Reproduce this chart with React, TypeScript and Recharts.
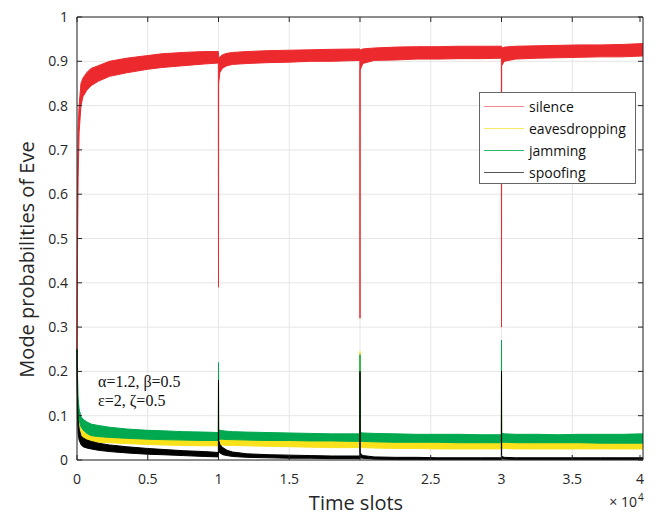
import React from "react";
import { AreaChart, Area, XAxis, YAxis, CartesianGrid, ReferenceArea } from "recharts";

const times = [
  0, 30, 80, 150, 280, 420, 700, 1000, 1500, 2300,
  3500, 5000, 6000, 7500, 9000, 9990, 10000, 10010, 10100, 10300,
  10600, 11000, 12000, 13500, 15000, 16500, 18000, 19990, 20000, 20010,
  20200, 21000, 22500, 24000, 25500, 27000, 28500, 29990, 30000, 30010,
  30200, 31000, 32500, 34000, 35500, 37000, 38500, 40000,
];

// lower / upper edge of each noisy trace
const silenceLo = [
  0.25, 0.45, 0.64, 0.74, 0.8, 0.82, 0.835, 0.845, 0.855, 0.866,
  0.874, 0.882, 0.886, 0.89, 0.894, 0.896, 0.39, 0.85, 0.875, 0.885,
  0.89, 0.893, 0.895, 0.897, 0.898, 0.9, 0.9, 0.902, 0.32, 0.88,
  0.895, 0.902, 0.903, 0.905, 0.905, 0.906, 0.906, 0.907, 0.3, 0.89,
  0.9, 0.905, 0.907, 0.908, 0.909, 0.91, 0.91, 0.912,
];
const silenceHi = [
  0.25, 0.6, 0.75, 0.8, 0.85, 0.862, 0.875, 0.884, 0.89, 0.9,
  0.907, 0.913, 0.917, 0.92, 0.922, 0.922, 0.92, 0.905, 0.91, 0.915,
  0.918, 0.92, 0.922, 0.924, 0.925, 0.926, 0.927, 0.928, 0.928, 0.925,
  0.928, 0.93, 0.932, 0.933, 0.933, 0.934, 0.934, 0.934, 0.934, 0.93,
  0.932, 0.934, 0.935, 0.936, 0.937, 0.937, 0.938, 0.94,
];
const eavesLo = [
  0.25, 0.12, 0.08, 0.06, 0.05, 0.047, 0.044, 0.042, 0.04, 0.039,
  0.037, 0.035, 0.034, 0.033, 0.032, 0.032, 0.032, 0.034, 0.034, 0.034,
  0.033, 0.033, 0.032, 0.031, 0.03, 0.029, 0.028, 0.028, 0.028, 0.028,
  0.028, 0.027, 0.026, 0.026, 0.025, 0.025, 0.025, 0.025, 0.025, 0.026,
  0.026, 0.025, 0.025, 0.025, 0.025, 0.025, 0.025, 0.025,
];
const eavesHi = [
  0.25, 0.17, 0.11, 0.085, 0.07, 0.065, 0.058, 0.055, 0.053, 0.051,
  0.049, 0.048, 0.047, 0.046, 0.045, 0.045, 0.2, 0.05, 0.049, 0.048,
  0.047, 0.047, 0.046, 0.045, 0.044, 0.044, 0.043, 0.043, 0.245, 0.045,
  0.044, 0.042, 0.041, 0.04, 0.04, 0.04, 0.04, 0.04, 0.25, 0.043,
  0.042, 0.041, 0.04, 0.04, 0.04, 0.04, 0.039, 0.039,
];
const jammingLo = [
  0.25, 0.15, 0.11, 0.09, 0.075, 0.068, 0.06, 0.055, 0.053, 0.051,
  0.049, 0.047, 0.046, 0.045, 0.044, 0.044, 0.044, 0.046, 0.047, 0.047,
  0.046, 0.046, 0.045, 0.044, 0.044, 0.043, 0.043, 0.042, 0.042, 0.042,
  0.042, 0.041, 0.04, 0.04, 0.04, 0.039, 0.039, 0.039, 0.039, 0.04,
  0.04, 0.039, 0.039, 0.039, 0.039, 0.038, 0.038, 0.038,
];
const jammingHi = [
  0.25, 0.2, 0.14, 0.115, 0.098, 0.092, 0.086, 0.081, 0.078, 0.074,
  0.07, 0.067, 0.066, 0.064, 0.063, 0.062, 0.22, 0.068, 0.067, 0.066,
  0.065, 0.064, 0.063, 0.062, 0.061, 0.06, 0.059, 0.059, 0.238, 0.062,
  0.061, 0.06, 0.059, 0.058, 0.058, 0.058, 0.057, 0.057, 0.27, 0.06,
  0.059, 0.058, 0.058, 0.057, 0.058, 0.058, 0.058, 0.059,
];
const spoofingLo = [
  0.25, 0.1, 0.06, 0.045, 0.035, 0.03, 0.027, 0.025, 0.022, 0.019,
  0.016, 0.013, 0.012, 0.01, 0.008, 0.007, 0.007, 0.02, 0.016, 0.012,
  0.01, 0.008, 0.006, 0.005, 0.004, 0.004, 0.003, 0.003, 0.003, 0.005,
  0.004, 0.002, 0.001, 0.001, 0.001, 0.001, 0.001, 0.001, 0.001, 0.003,
  0.002, 0.001, 0.001, 0.001, 0.001, 0.001, 0.001, 0.001,
];
const spoofingHi = [
  0.25, 0.15, 0.09, 0.07, 0.055, 0.05, 0.045, 0.042, 0.038, 0.034,
  0.03, 0.026, 0.024, 0.021, 0.019, 0.017, 0.18, 0.045, 0.035, 0.028,
  0.022, 0.018, 0.014, 0.012, 0.011, 0.01, 0.009, 0.009, 0.2, 0.016,
  0.01, 0.007, 0.006, 0.006, 0.005, 0.005, 0.005, 0.005, 0.2, 0.008,
  0.006, 0.005, 0.005, 0.005, 0.005, 0.005, 0.005, 0.005,
];

const xTicks = [0, 5000, 10000, 15000, 20000, 25000, 30000, 35000, 40000];
const yTicks = [0, 0.1, 0.2, 0.3, 0.4, 0.5, 0.6, 0.7, 0.8, 0.9, 1];

const series = [
  { key: "silence", lo: silenceLo, hi: silenceHi, color: "#ec2a2e", legend: "#f28a8c" },
  { key: "eavesdropping", lo: eavesLo, hi: eavesHi, color: "#f9e21b", legend: "#f7ea64" },
  { key: "jamming", lo: jammingLo, hi: jammingHi, color: "#00a94f", legend: "#2cb866" },
  { key: "spoofing", lo: spoofingLo, hi: spoofingHi, color: "#000000", legend: "#555555" },
];

const data = times.map((t, i) => {
  const row: Record<string, any> = { t };
  series.forEach((s) => {
    row[s.key] = [s.lo[i], s.hi[i]];
  });
  return row;
});

const W = 660;
const H = 521;
const M = { top: 17, right: 17, left: 77, bottom: 61 };
const PLOT_W = W - M.left - M.right;
const PLOT_H = H - M.top - M.bottom;
const SANS = "'Open Sans', 'Noto Sans', sans-serif";
const INK = "#262626";

const XTick = ({ x, y, payload }: any) => (
  <g>
    <line x1={x} x2={x} y1={y} y2={y - 5} stroke={INK} />
    <line x1={x} x2={x} y1={y - PLOT_H} y2={y - PLOT_H + 5} stroke={INK} />
    <text x={x} y={y + 24} textAnchor="middle" fontSize={14} fontFamily={SANS} fill={INK}>
      {payload.value / 10000}
    </text>
  </g>
);

const YTick = ({ x, y, payload }: any) => (
  <g>
    <line x1={x} x2={x + 5} y1={y} y2={y} stroke={INK} />
    <line x1={x + PLOT_W - 5} x2={x + PLOT_W} y1={y} y2={y} stroke={INK} />
    <text x={x - 9} y={y + 5} textAnchor="end" fontSize={14} fontFamily={SANS} fill={INK}>
      {payload.value}
    </text>
  </g>
);

const XLabel = ({ viewBox }: any) => {
  const { x, y, width } = viewBox;
  return (
    <g fontFamily={SANS} fill={INK}>
      <text x={x + width / 2 - 4} y={y + 50} textAnchor="middle" fontSize={20}>
        Time slots
      </text>
      <text x={x + width - 6} y={y + 47} textAnchor="end" fontSize={14}>
        × 10
      </text>
      <text x={x + width - 5} y={y + 41} fontSize={10}>
        4
      </text>
    </g>
  );
};

const YLabel = ({ viewBox }: any) => {
  const { y, height } = viewBox;
  const cx = 34;
  const cy = y + height / 2 + 21;
  return (
    <text
      x={cx}
      y={cy}
      transform={`rotate(-90 ${cx} ${cy})`}
      textAnchor="middle"
      fontSize={20}
      fontFamily={SANS}
      fill={INK}
    >
      Mode probabilities of Eve
    </text>
  );
};

export default function App() {
  return (
    <div style={{ position: "absolute", left: 0, top: 0, width: W, height: H, background: "#fff" }}>
      <AreaChart width={W} height={H} data={data} margin={{ top: M.top, right: M.right, left: 0, bottom: 0 }}>
        <CartesianGrid stroke="#e5e5e5" />
        <XAxis
          dataKey="t"
          type="number"
          domain={[0, 40000]}
          ticks={xTicks}
          height={M.bottom}
          axisLine={false}
          tickLine={false}
          tickSize={0}
          tickMargin={0}
          tick={(p: any) => <XTick {...p} />}
          label={(p: any) => <XLabel {...p} />}
        />
        <YAxis
          type="number"
          domain={[0, 1]}
          ticks={yTicks}
          width={M.left}
          axisLine={false}
          tickLine={false}
          tickSize={0}
          tickMargin={0}
          tick={(p: any) => <YTick {...p} />}
          label={(p: any) => <YLabel {...p} />}
        />
        {series.map((s) => (
          <Area
            key={s.key}
            dataKey={s.key}
            type="linear"
            stroke={s.color}
            strokeWidth={1}
            fill={s.color}
            fillOpacity={1}
            dot={false}
            activeDot={false}
            isAnimationActive={false}
          />
        ))}
        <ReferenceArea x1={0} x2={40000} y1={0} y2={1} fill="none" stroke={INK} strokeWidth={1} />
      </AreaChart>

      <div
        style={{
          position: "absolute",
          left: 98,
          top: 372,
          fontFamily: "'Liberation Serif', 'Times New Roman', serif",
          fontSize: 16,
          lineHeight: "19px",
          color: "#111",
        }}
      >
        <div>α=1.2, β=0.5</div>
        <div>ε=2, ζ=0.5</div>
      </div>

      <div
        style={{
          position: "absolute",
          left: 479,
          top: 92,
          width: 155,
          height: 90,
          border: "1px solid #666",
          background: "#fff",
          fontFamily: SANS,
          fontSize: 14,
          color: "#111",
          boxSizing: "content-box",
        }}
      >
        {series.map((s, i) => (
          <div
            key={s.key}
            style={{ position: "absolute", left: 4, top: 3 + i * 22.3, height: 20, display: "flex", alignItems: "center" }}
          >
            <div style={{ width: 40, height: 1, background: s.legend, marginRight: 5 }} />
            <span>{s.key}</span>
          </div>
        ))}
      </div>
    </div>
  );
}
